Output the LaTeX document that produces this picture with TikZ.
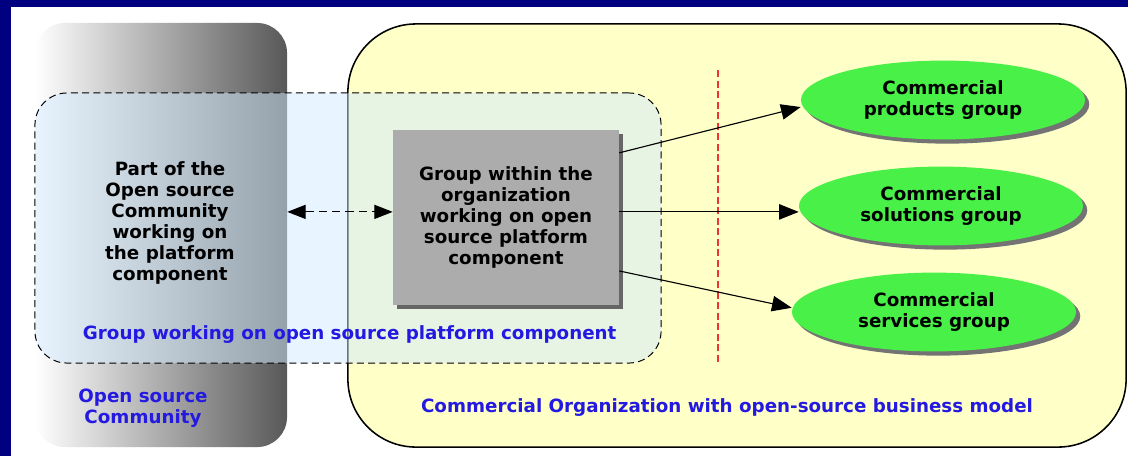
\documentclass[tikz,border=0pt]{standalone}
\usepackage{fontspec}
\setmainfont{DejaVu Sans}
\usetikzlibrary{shapes.geometric,shadows,arrows.meta}
\definecolor{navyframe}{RGB}{0,0,128}
\definecolor{orgyellow}{RGB}{255,255,200}
\definecolor{groupblue}{RGB}{210,235,255}
\definecolor{boxgray}{RGB}{172,172,172}
\definecolor{ellgreen}{RGB}{72,240,72}
\definecolor{labelblue}{RGB}{35,25,225}
\definecolor{comgray}{RGB}{88,88,88}
\definecolor{dividerred}{RGB}{240,50,50}
\begin{document}
\begin{tikzpicture}[x=0.025cm, y=-0.025cm,
    txt/.style={font=\bfseries\fontsize{13}{15}\selectfont, align=center},
    lbl/.style={txt, text=labelblue},
    flow/.style={-{Triangle[length=14pt, width=11pt]}, line width=0.8pt},
    link/.style={{Triangle[length=13pt, width=10pt]}-{Triangle[length=13pt, width=10pt]},
                 line width=0.8pt, dash pattern=on 6pt off 3.5pt},
    team/.style={ellipse, fill=ellgreen, minimum width=7.1cm, minimum height=1.97cm,
                 inner sep=0pt, txt,
                 drop shadow={shadow xshift=3pt, shadow yshift=-3pt, fill=black!55, opacity=1}}]
  \useasboundingbox (0,0) rectangle (1128,456);
  \fill[navyframe] (0,0) rectangle (1128,456);
  \fill[white] (11,7) rectangle (1128,456);

  \node[rounded corners=0.75cm, left color=white, middle color=black!20, right color=comgray,
        minimum width=6.3cm, minimum height=10.6cm] (osc) at (161,235) {};
  \node[rounded corners=1.7cm, draw, line width=1.1pt, fill=orgyellow,
        minimum width=19.45cm, minimum height=10.575cm] (org) at (737,235.5) {};
  \node[rounded corners=0.8cm, draw, dash pattern=on 5pt off 3pt, line width=0.7pt,
        fill=groupblue, fill opacity=0.5,
        minimum width=15.65cm, minimum height=6.75cm] (wg) at (348,228) {};

  \draw[dividerred, line width=0.8pt, dash pattern=on 5pt off 2.5pt] (718,70) -- (718,365);

  \node[txt] (part) at (170,223)
    {Part of the\\Open source\\Community\\working on\\the platform\\component};
  \node[txt, fill=boxgray, minimum width=5.65cm, minimum height=4.375cm,
        drop shadow={shadow xshift=3pt, shadow yshift=-3pt, fill=black!60, opacity=1}]
    (grp) at (506,217.5)
    {Group within the\\organization\\working on open\\source platform\\component};

  \node[team] (prod) at (943,100) {Commercial\\products group};
  \node[team] (sol) at (941,206) {Commercial\\solutions group};
  \node[team] (serv) at (934,312) {Commercial\\services group};

  \draw[flow] ([yshift=46pt]grp.east) -- ([yshift=-5pt]prod.west);
  \draw[flow] ([yshift=4pt]grp.east) -- ([yshift=4pt]grp.east -| sol.west);
  \draw[flow] ([yshift=-38pt]grp.east) -- ([yshift=3pt]serv.west);
  \draw[link] ([yshift=4pt]grp.west -| osc.east) -- ([yshift=4pt]grp.west);

  \node[lbl, anchor=west] (wglabel) at (78,335) {Group working on open source platform component};
  \node[lbl] (osclabel) at (143,408) {Open source\\Community};
  \node[lbl] (orglabel) at (727,408) {Commercial Organization with open-source business model};
\end{tikzpicture}
\end{document}
